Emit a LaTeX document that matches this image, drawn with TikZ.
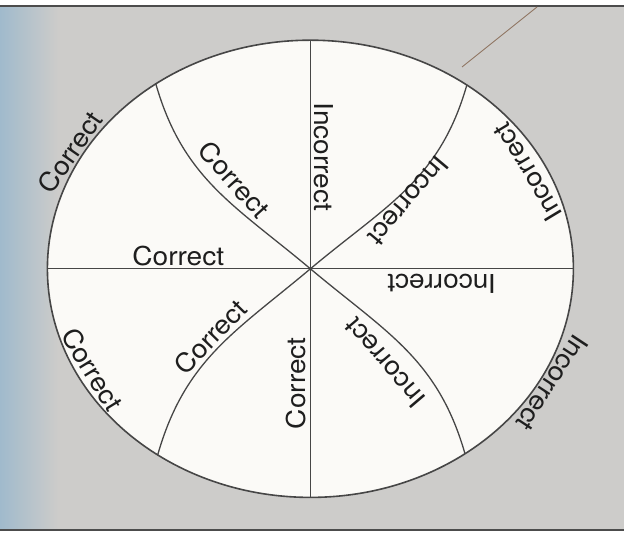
\documentclass[tikz,border=0pt]{standalone}
\usepackage{fontspec}
\setmainfont{TeX Gyre Heros}
\newfontfamily\lblfamily[FakeStretch=1.08]{TeX Gyre Heros}
\newcommand{\lblfont}{\lblfamily\fontsize{26}{26}\selectfont}
\definecolor{page}{RGB}{205,204,202}
\definecolor{paper}{RGB}{251,250,247}
\definecolor{ink}{RGB}{70,70,70}
\definecolor{textink}{RGB}{30,30,30}
\definecolor{edgeblue}{RGB}{160,186,204}
\definecolor{strayline}{RGB}{140,112,92}
\begin{document}
\begin{tikzpicture}[x=1pt,y=1pt,
  lbl/.style={inner sep=0pt, outer sep=0pt, font=\lblfont, text=textink},
  rim/.style={draw=ink, line width=1.6pt},
  divider/.style={draw=ink, line width=1.3pt},
  frameline/.style={draw=black!70, line width=1.6pt}]
\useasboundingbox (0,0) rectangle (624,535);
% scanned page background
\fill[white] (0,0) rectangle (624,535);
\fill[page] (0,5) rectangle (624,529);
\shade[left color=edgeblue, right color=page] (0,5) rectangle (58,529);
\coordinate (f1) at (0,529);
\coordinate (f2) at (624,529);
\coordinate (f3) at (0,5);
\coordinate (f4) at (624,5);
\draw[frameline] (f1) -- (f2);
\draw[frameline] (f3) -- (f4);
% stray line at top right
\coordinate (s1) at (462,468);
\coordinate (s2) at (537,528);
\draw[strayline, line width=0.8pt] (s1) -- (s2);
% circle
\coordinate (O) at (310.4,266.2);
\fill[paper] (O) ellipse [x radius=263, y radius=228.6];
\path (O) ++(90:263 and 228.6) coordinate (T);
\path (O) ++(270:263 and 228.6) coordinate (B);
\path (O) ++(180:263 and 228.6) coordinate (L);
\path (O) ++(0:263 and 228.6) coordinate (R);
\path (O) ++(126:263 and 228.6) coordinate (TL);
\path (O) ++(53.5:263 and 228.6) coordinate (TR);
\path (O) ++(234.5:263 and 228.6) coordinate (BL);
\path (O) ++(306:263 and 228.6) coordinate (BR);
\draw[divider] (T) -- (B);
\draw[divider] (L) -- (R);
\draw[divider] (TL) to[out=-74, in=140, looseness=1.05] (O);
\draw[divider] (TR) to[out=-106, in=40, looseness=1.05] (O);
\draw[divider] (BL) to[out=74, in=-140, looseness=1.05] (O);
\draw[divider] (BR) to[out=106, in=-40, looseness=1.05] (O);
\draw[rim] (O) ellipse [x radius=263, y radius=228.6];
% labels on the straight lines
\node[lbl] (lh) at (178.3,279.2) {Correct};
\node[lbl, rotate=-90] (lt) at (324.2,378.3) {Incorrect};
\node[lbl, rotate=90] (lb) at (295.8,151.7) {Correct};
\node[lbl, rotate=180] (lr) at (441.7,251.7) {Incorrect};
% labels on the curves
\node[lbl, rotate=-48] (ctl) at (234.2,355.5) {Correct};
\node[lbl, rotate=45.8] (cbl) at (210.3,198.1) {Correct};
\node[lbl, rotate=230] (ctr) at (408.3,334.1) {Incorrect};
\node[lbl, rotate=130.4] (cbr) at (384.7,172.1) {Incorrect};
% labels on the rim
\node[lbl, rotate=55.3] (otl) at (70,382.7) {Correct};
\node[lbl, rotate=-58.4] (obl) at (92.3,165.8) {Correct};
\node[lbl, rotate=121] (otr) at (527.5,362.8) {Incorrect};
\node[lbl, rotate=236.6] (obr) at (552.5,152) {Incorrect};
\end{tikzpicture}
\end{document}
